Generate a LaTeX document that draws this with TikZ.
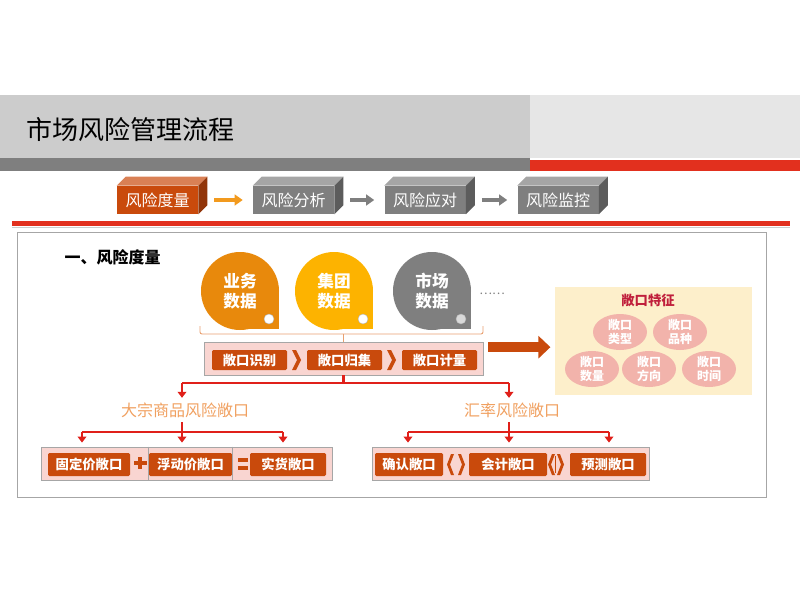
\documentclass[tikz,border=0pt]{standalone}
\usepackage{fontspec}
\setmainfont{Noto Sans CJK SC}
\usetikzlibrary{arrows.meta,shapes.geometric}
\definecolor{expo}{HTML}{C94A0C}
\definecolor{boxgray}{HTML}{7F7F7F}
\definecolor{hdrgray}{HTML}{CCCCCC}
\definecolor{hdrlight}{HTML}{E6E6E6}
\definecolor{barred}{HTML}{E2301E}
\definecolor{arrorange}{HTML}{F29A1E}
\definecolor{stripfill}{HTML}{F9D5D1}
\definecolor{dropa}{HTML}{E8890C}
\definecolor{dropb}{HTML}{FDB300}
\definecolor{featfill}{HTML}{FDEFCB}
\definecolor{ellfill}{HTML}{F2B3AB}
\definecolor{feattitle}{HTML}{C01F3C}
\definecolor{treered}{HTML}{E0201A}
\definecolor{labelorange}{HTML}{F0A060}
\definecolor{bracec}{HTML}{E8A070}
\tikzset{
  pbox/.style={minimum width=60.75pt, minimum height=21pt, inner sep=0pt, text=white, font=\fontsize{12}{14}\selectfont},
  flowarr/.style={line width=3.5pt, -{Triangle[length=6pt,width=8pt]}, shorten <=12pt, shorten >=7.5pt},
  drop/.style={text=white, align=center, font=\bfseries\fontsize{12.5}{15}\selectfont},
  stripbox/.style={draw=gray!70, fill=stripfill, inner sep=0pt, line width=0.6pt, minimum height=24.75pt},
  expbox/.style={fill=expo, text=white, inner sep=0pt, minimum height=15pt, rounded corners=1pt, font=\bfseries\fontsize{10}{12}\selectfont},
  featell/.style={ellipse, fill=ellfill, text=white, inner sep=0pt, minimum width=40.5pt, minimum height=27pt, align=center, font=\bfseries\fontsize{9}{10.5}\selectfont},
  tree/.style={draw=treered, line width=2.2pt},
  treearr/.style={tree, -{Triangle[length=4.5pt,width=6.5pt]}},
  sublabel/.style={text=labelorange, font=\fontsize{12}{14}\selectfont},
}

\begin{document}
\begin{tikzpicture}[x=0.75pt, y=-0.75pt]
    \useasboundingbox (0,0) rectangle (800,600);
    % title band
    \fill[hdrgray] (0,95) rectangle (530,158);
    \fill[hdrlight] (530,95) rectangle (800,158);
    \fill[boxgray] (0,158) rectangle (530,171);
    \fill[barred] (530,160) rectangle (800,171);
    \node[anchor=west, font=\fontsize{19.5}{22}\selectfont] (title) at (22,130) {市场风险管理流程};
    % process steps
    \foreach \n/\x/\c/\t in {1/157.5/expo/风险度量, 2/293.5/boxgray/风险分析, 3/425/boxgray/风险应对, 4/558/boxgray/风险监控}{
        \node[pbox, fill=\c] (m\n) at (\x,200) {\t};
        \fill[\c!70!white] (m\n.north west) -- ([shift={(9,-9)}]m\n.north west) -- ([shift={(9,-9)}]m\n.north east) -- (m\n.north east) -- cycle;
        \fill[\c!72!black] (m\n.north east) -- ([shift={(9,-9)}]m\n.north east) -- ([shift={(9,-9)}]m\n.south east) -- (m\n.south east) -- cycle;
    }
    \draw[flowarr, draw=arrorange] (m1) -- (m2);
    \draw[flowarr, draw=boxgray] (m2) -- (m3);
    \draw[flowarr, draw=boxgray] (m3) -- (m4);
    \fill[barred] (12,221) rectangle (790,226);
    \draw[gray!40] (12,227.5) -- (790,227.5);
    % frame
    \draw[gray!70, line width=0.75pt] (17,232) rectangle (766,497);
    \node[anchor=west, font=\bfseries\fontsize{12}{14}\selectfont] (sec) at (60,257) {一、风险度量};
    % data sources
    \foreach \n/\x/\c/\d/\t in {1/240/dropa/white/业务\\数据, 2/334/dropb/white/集团\\数据, 3/432/boxgray/gray!30/市场\\数据}{
        \fill[\c] (\x,291) circle[radius=39];
        \fill[\c] (\x,291) rectangle ++(39,38);
        \fill[\d, draw=gray!60, line width=0.3pt] (\x+29,319) circle[radius=5];
        \node[drop] (d\n) at (\x,291) {\t};
    }
    \node[text=gray, font=\fontsize{9}{10}\selectfont] (more) at (492,294) {……};
    % exposure steps
    \node[stripbox, minimum width=209.25pt] (strip1) at (343.5,358.5) {};
    \draw[bracec, line width=0.7pt, rounded corners=1.5pt] (200,326) |- (483,334) -- (483,326);
    \draw[bracec, line width=0.7pt] (343.5,334) -- (strip1.north);
    \node[expbox, minimum width=56.25pt] (ident) at (249.5,360) {敞口识别};
    \node[expbox, minimum width=56.25pt] (gather) at (344.5,360) {敞口归集};
    \node[expbox, minimum width=56.25pt] (measure) at (439.5,360) {敞口计量};
    \foreach \x in {292,387}{
        \fill[expo] (\x,350) -- ++(4,0) -- ++(5,10) -- ++(-5,10) -- ++(-4,0) -- ++(5,-10) -- cycle;
    }
    \draw[expo, line width=7.5pt, -{Triangle[length=9pt,width=16.5pt]}] ([xshift=3.75pt,yshift=8.5pt]strip1.east) -- ++(62,0);
    % exposure features
    \node[fill=featfill, minimum width=147.75pt, minimum height=81pt, inner sep=0pt] (feat) at (653.5,341) {};
    \node[text=feattitle, font=\bfseries\fontsize{10}{12}\selectfont] (ftitle) at (648,300) {敞口特征};
    \foreach \n/\x/\y/\t in {1/620/332/类型, 2/680/332/品种, 3/592/369/数量, 4/649/369/方向, 5/709/369/时间}{
        \node[featell] (f\n) at (\x,\y) {敞口\\\t};
    }
    % exposure tree
    \coordinate (jl) at (182,383);
    \coordinate (jr) at (509,383);
    \node[sublabel] (cmdty) at (185,410) {大宗商品风险敞口};
    \node[sublabel] (fx) at (512,410) {汇率风险敞口};
    \draw[tree] (strip1.south) -- (strip1.south |- jl);
    \draw[tree] (jl) -- (jr);
    \draw[treearr] (jl) -- (jl |- cmdty.north);
    \draw[treearr] (jr) -- (jr |- fx.north);
    \coordinate (kl) at (182,432);
    \coordinate (kr) at (509,432);
    \draw[tree] (cmdty.south -| kl) -- (kl);
    \draw[tree] (fx.south -| kr) -- (kr);
    \node[stripbox, minimum width=218.25pt] (strip2) at (186.5,463.5) {};
    \node[stripbox, minimum width=207.75pt] (strip3) at (510.5,463.5) {};
    \draw[tree] (82,432) -- (283,432);
    \draw[tree] (408,432) -- (609,432);
    \foreach \i/\x in {1/82,2/182,3/283}{
        \coordinate (a\i) at (\x,432);
        \draw[treearr, shorten >=3pt] (a\i) -- (a\i |- strip2.north);
    }
    \foreach \i/\x in {1/408,2/509,3/609}{
        \coordinate (b\i) at (\x,432);
        \draw[treearr, shorten >=3pt] (b\i) -- (b\i |- strip3.north);
    }
    % commodity exposure
    \node[expbox, minimum width=61.5pt, minimum height=17.25pt] (fixed) at (89,464.5) {固定价敞口};
    \node[expbox, minimum width=62.25pt, minimum height=17.25pt] (float) at (190.5,464.5) {浮动价敞口};
    \node[expbox, minimum width=57pt, minimum height=17.25pt] (spot) at (288,464.5) {实货敞口};
    \draw[gray!70, line width=0.5pt] (float.west |- strip2.north) -- (float.west |- strip2.south);
    \draw[gray!70, line width=0.5pt] (float.east |- strip2.north) -- (float.east |- strip2.south);
    \fill[expo] (140,463) +(-6.5,-2) rectangle +(6.5,2);
    \fill[expo] (140,463) +(-2,-6) rectangle +(2,6);
    \fill[expo] (238,458) rectangle (248,462);
    \fill[expo] (238,466) rectangle (248,470);
    % fx exposure
    \node[expbox, minimum width=51pt, minimum height=17.25pt] (confirm) at (409,464.5) {确认敞口};
    \node[expbox, minimum width=58.5pt, minimum height=17.25pt] (acct) at (508,464.5) {会计敞口};
    \node[expbox, minimum width=57pt, minimum height=17.25pt] (fcst) at (608,464.5) {预测敞口};
    \foreach \x in {447,548}{
        \fill[expo] (\x+7,454) -- ++(-3,0) -- ++(-4,10.5) -- ++(4,10.5) -- ++(3,0) -- ++(-4,-10.5) -- cycle;
    }
    \foreach \x in {458,557}{
        \fill[expo] (\x,454) -- ++(3,0) -- ++(4,10.5) -- ++(-4,10.5) -- ++(-3,0) -- ++(4,-10.5) -- cycle;
    }
    \fill[expo] (554.5,456) rectangle (556,473);
\end{tikzpicture}
\end{document}
